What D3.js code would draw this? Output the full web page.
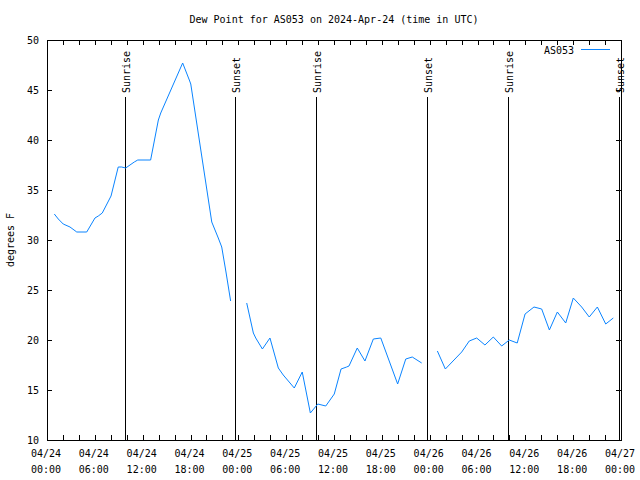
<!DOCTYPE html>
<html>
<head>
<meta charset="utf-8">
<script src="https://cdn.jsdelivr.net/npm/d3@7"></script>
<style>
  html, body { margin: 0; padding: 0; background: #fff; }
  text { font-family: "DejaVu Sans Mono", monospace; font-size: 10px; fill: #000; }
</style>
</head>
<body>
<svg id="chart" width="640" height="480"></svg>
<script>
// ---- data ----
const times = [
  "2024-04-24 00:55","2024-04-24 01:25","2024-04-24 02:02","2024-04-24 02:53","2024-04-24 03:44",
  "2024-04-24 04:59","2024-04-24 06:01","2024-04-24 06:26","2024-04-24 06:56","2024-04-24 08:02",
  "2024-04-24 08:56","2024-04-24 09:22","2024-04-24 09:52","2024-04-24 10:57","2024-04-24 11:23",
  "2024-04-24 13:00","2024-04-24 13:58","2024-04-24 14:16","2024-04-24 17:01","2024-04-24 17:51",
  "2024-04-24 18:02","2024-04-24 20:40","2024-04-24 21:29","2024-04-24 21:55","2024-04-24 22:27",
  "2024-04-24 23:02","2024-04-25 00:00",
  "2024-04-25 01:03","2024-04-25 01:53","2024-04-25 02:11","2024-04-25 03:01","2024-04-25 03:58",
  "2024-04-25 05:01","2024-04-25 05:38","2024-04-25 07:01","2024-04-25 08:01","2024-04-25 09:02",
  "2024-04-25 09:58","2024-04-25 10:58","2024-04-25 12:02","2024-04-25 12:53","2024-04-25 13:35",
  "2024-04-25 13:53","2024-04-25 14:55","2024-04-25 15:53","2024-04-25 16:56","2024-04-25 17:52",
  "2024-04-25 19:59","2024-04-25 21:00","2024-04-25 21:49","2024-04-25 23:00","2024-04-25 23:58",
  "2024-04-26 00:58","2024-04-26 01:58","2024-04-26 04:01","2024-04-26 04:58","2024-04-26 05:54",
  "2024-04-26 06:56","2024-04-26 07:59","2024-04-26 09:02","2024-04-26 09:59","2024-04-26 10:59",
  "2024-04-26 11:58","2024-04-26 13:05","2024-04-26 14:03","2024-04-26 15:01","2024-04-26 16:01",
  "2024-04-26 17:04","2024-04-26 18:01","2024-04-26 19:04","2024-04-26 20:01","2024-04-26 21:02",
  "2024-04-26 22:05","2024-04-26 23:02"
];
const dewPoint = [
  32.6, 32.1, 31.6, 31.3, 30.8,
  30.8, 32.2, 32.4, 32.7, 34.4,
  37.3, 37.3, 37.2, 37.8, 38.0,
  38.0, 42.0, 42.7, 47.7, 46.0,
  45.6, 31.8, 30.2, 29.3, 26.8,
  23.9, null,
  23.7, 20.7, 20.2, 19.1, 20.2,
  17.2, 16.5, 15.2, 16.8, 12.7,
  13.6, 13.4, 14.6, 17.1, 17.3,
  17.4, 19.2, 17.9, 20.1, 20.2,
  15.6, 18.1, 18.3, 17.7, null,
  18.9, 17.1, 18.8, 19.9, 20.2,
  19.5, 20.3, 19.4, 20.0, 19.7,
  22.6, 23.3, 23.1, 21.0, 22.8,
  21.7, 24.2, 23.3, 22.3, 23.3,
  21.6, 22.2
];
const sunLabels = ["Sunrise","Sunset","Sunrise","Sunset","Sunrise","Sunset"];
const sunTimes  = ["2024-04-24 09:46","2024-04-24 23:37","2024-04-25 09:47","2024-04-25 23:38","2024-04-26 09:52","2024-04-26 23:43"];
const xDomain = ["2024-04-24 00:00","2024-04-27 00:00"];
const yDomain = [10, 50];
const yTicks = [10, 15, 20, 25, 30, 35, 40, 45, 50];
const seriesName = "AS053";
const titleText = "Dew Point for AS053 on 2024-Apr-24 (time in UTC)";
const yLabel = "degrees F";

// ---- chart ----
const parse = d3.utcParse("%Y-%m-%d %H:%M");
const data = times.map((t, i) => ({ t: parse(t), v: dewPoint[i] }));

const W = 640, H = 480;
const m = { left: 47, right: 19, top: 40, bottom: 40 };
const svg = d3.select("#chart");

const x = d3.scaleUtc().domain(xDomain.map(parse)).range([m.left, W - m.right]);
const y = d3.scaleLinear().domain(yDomain).range([H - m.bottom, m.top]);

const xTicks = d3.utcHour.every(2).range(x.domain()[0], d3.utcMinute.offset(x.domain()[1], 1));
const xLabelTicks = d3.utcHour.every(6).range(x.domain()[0], d3.utcMinute.offset(x.domain()[1], 1));
const fmtDate = d3.utcFormat("%m/%d"), fmtTime = d3.utcFormat("%H:%M");
const TL = 5;

// ticks (inward, mirrored)
const g = svg.append("g").attr("stroke", "#000").attr("stroke-width", 1).attr("shape-rendering", "crispEdges");
xTicks.forEach(t => {
  const px = Math.round(x(t)) + 0.5;
  g.append("line").attr("x1", px).attr("x2", px).attr("y1", y(yDomain[0])).attr("y2", y(yDomain[0]) - TL);
  g.append("line").attr("x1", px).attr("x2", px).attr("y1", y(yDomain[1])).attr("y2", y(yDomain[1]) + TL);
});
yTicks.forEach(v => {
  const py = Math.round(y(v)) + 0.5;
  g.append("line").attr("x1", x.range()[0]).attr("x2", x.range()[0] + TL).attr("y1", py).attr("y2", py);
  g.append("line").attr("x1", x.range()[1]).attr("x2", x.range()[1] - TL).attr("y1", py).attr("y2", py);
});

// y labels
svg.append("g").selectAll("text").data(yTicks).join("text")
  .attr("x", x.range()[0] - 8).attr("y", d => y(d)).attr("dy", "0.35em")
  .attr("text-anchor", "end").text(d => d);

// x labels
const xl = svg.append("g").selectAll("text").data(xLabelTicks).join("text")
  .attr("text-anchor", "middle");
xl.append("tspan").attr("x", d => x(d) - 1).attr("y", 457).text(d => fmtDate(d));
xl.append("tspan").attr("x", d => x(d) - 1).attr("y", 473).text(d => fmtTime(d));

// sun lines
sunTimes.forEach((s, i) => {
  const px = Math.round(x(parse(s))) + 0.5;
  svg.append("line").attr("x1", px).attr("x2", px).attr("y1", y(yDomain[0])).attr("y2", 97)
    .attr("stroke", "#000").attr("stroke-width", 1).attr("shape-rendering", "crispEdges");
  svg.append("text").attr("transform", `translate(${px},93) rotate(-90)`)
    .attr("dy", "0.45em").attr("text-anchor", "start").text(sunLabels[i]);
});

// data line
const line = d3.line().defined(d => d.v != null).x(d => x(d.t)).y(d => y(d.v));
svg.append("path").datum(data).attr("d", line)
  .attr("fill", "none").attr("stroke", "#0a84ff").attr("stroke-width", 1);

// frame
svg.append("rect").attr("x", x.range()[0] + 0.5).attr("y", y.range()[1] + 0.5)
  .attr("width", x.range()[1] - x.range()[0]).attr("height", y.range()[0] - y.range()[1])
  .attr("fill", "none").attr("stroke", "#000").attr("shape-rendering", "crispEdges");

// legend
svg.append("text").attr("x", 574).attr("y", 50).attr("dy", "0.35em").attr("text-anchor", "end").text(seriesName);
svg.append("line").attr("x1", 581).attr("x2", 610).attr("y1", 49.5).attr("y2", 49.5)
  .attr("stroke", "#0a84ff").attr("stroke-width", 1);

// title
svg.append("text").attr("x", (x.range()[0] + x.range()[1]) / 2).attr("y", 23)
  .attr("text-anchor", "middle").text(titleText);

// y axis title
svg.append("text").attr("transform", `translate(14,${(y.range()[0] + y.range()[1]) / 2}) rotate(-90)`)
  .attr("text-anchor", "middle").text(yLabel);
</script>
</body>
</html>
